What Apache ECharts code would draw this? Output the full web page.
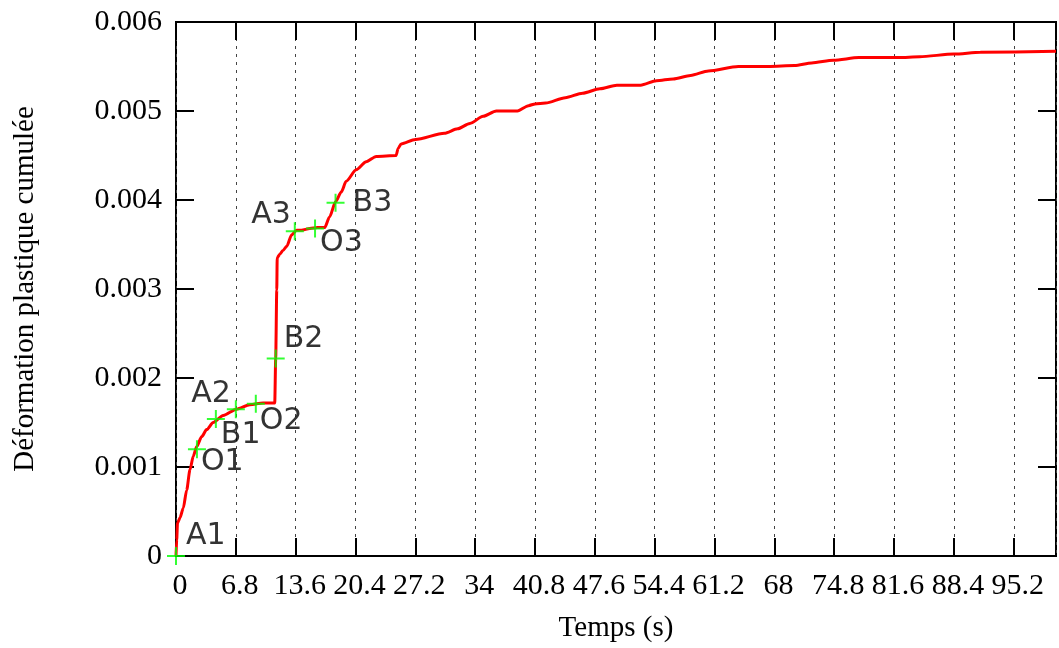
<!DOCTYPE html>
<html>
<head>
<meta charset="utf-8">
<script src="https://cdn.jsdelivr.net/npm/echarts@6/dist/echarts.min.js"></script>
<style>
  html, body { margin: 0; padding: 0; background: #fff; }
  #chart { width: 1059px; height: 648px; }
</style>
</head>
<body>
<div id="chart"></div>
<script>
// curve: time (s) / cumulated plastic strain
var timeData = [0, 0.08, 0.17, 0.45, 0.83, 1.21, 1.59, 1.96, 2.35, 2.91, 3.48, 4.23, 5.36, 6.88, 8.39, 9.89, 11.22,
  11.33, 11.45, 11.5, 11.79, 12.13, 12.58, 13.15, 13.7, 14.25, 15.2, 16.1, 16.9, 17.45, 18.13, 18.78, 19.34, 20.48,
  21.61, 22.75, 25.01, 25.24, 25.58, 27.2, 30.5, 32.0, 33.4, 34.9, 36.4, 38.8, 40.06, 40.8, 42.0, 44.24, 46.2,
  48.17, 50.1, 52.8, 54.6, 56.5, 58.48, 60.5, 63.9, 67.3, 70.3, 72.24, 74.7, 77.6, 82.1, 84.5, 88.4, 91.4, 100];
var strainData = [0, 0.00018, 0.00037, 0.00043, 0.00054, 0.00074, 0.00097, 0.00112, 0.00123, 0.00134, 0.00142,
  0.0015, 0.00158, 0.00165, 0.0017, 0.00172, 0.00172,
  0.00222, 0.00299, 0.00335, 0.00339, 0.00343, 0.00348, 0.00361, 0.00366, 0.00366, 0.00368, 0.00369, 0.00369,
  0.00381, 0.00398, 0.00409, 0.00421, 0.00434, 0.00443, 0.00449, 0.0045, 0.00458, 0.00463, 0.00468, 0.00475,
  0.0048, 0.00486, 0.00494, 0.005, 0.005, 0.00506, 0.00508, 0.00509, 0.00515, 0.0052, 0.00525, 0.00529, 0.00529,
  0.00534, 0.00536, 0.0054, 0.00545, 0.0055, 0.0055, 0.00551, 0.00554, 0.00557, 0.0056, 0.0056, 0.00561,
  0.00564, 0.00566, 0.00567];

// marked points
var markNames = ['A1', 'O1', 'B1', 'A2', 'O2', 'B2', 'A3', 'O3', 'B3'];
var markTime = [0, 2.38, 4.53, 6.8, 9.07, 11.33, 13.5, 15.8, 18.13];
var markStrain = [0, 0.0012, 0.00154, 0.00165, 0.00171, 0.00222, 0.00365, 0.00368, 0.00397];

var xStep = 6.8, xMax = 100;
var yStep = 0.001, yMax = 0.006;

// where each mark label sits relative to its cross
var labelPlace = {
  A1: ['right', [0, -20]], O1: ['right', [-6, 13]], B1: ['right', [-5, 16]],
  A2: ['left', [5, -15]], O2: ['right', [-6, 17]], B2: ['right', [-2, -19]],
  A3: ['left', [6, -16]], O3: ['right', [-5, 15]], B3: ['right', [7, 1]]
};

var serif = '"Liberation Serif", "Times New Roman", serif';

var curve = timeData.map(function (t, i) { return [t, strainData[i]]; });
var marks = markNames.map(function (n, i) {
  var p = labelPlace[n];
  return {
    name: n,
    value: [markTime[i], markStrain[i]],
    label: { position: p[0], offset: p[1] }
  };
});

function xLabel(v) {
  if (v > xMax - 1) return '';
  return String(Math.round(v * 10) / 10);
}

var tick = { inside: true, length: 18, lineStyle: { color: '#000', width: 2 } };

var chart = echarts.init(document.getElementById('chart'));
chart.setOption({
  animation: false,
  backgroundColor: '#fff',
  grid: { left: 176, right: 3, top: 22, bottom: 92, show: true, borderColor: '#000', borderWidth: 2, backgroundColor: 'transparent' },
  xAxis: [{
    type: 'value', min: 0, max: xMax, interval: xStep,
    name: 'Temps (s)', nameLocation: 'middle', nameGap: 58,
    nameTextStyle: { fontFamily: serif, fontSize: 29, color: '#000' },
    axisLine: { show: false, onZero: false },
    axisTick: tick,
    axisLabel: { formatter: xLabel, fontFamily: serif, fontSize: 30, color: '#000', margin: 15, padding: [0, 0, 0, 8], showMaxLabel: false },
    splitLine: { show: true, lineStyle: { color: '#444', width: 1, type: [3, 5] } }
  }, {
    type: 'value', position: 'top', min: 0, max: xMax, interval: xStep,
    axisLine: { show: false, onZero: false },
    axisTick: tick,
    axisLabel: { show: false },
    splitLine: { show: false }
  }],
  yAxis: [{
    type: 'value', min: 0, max: yMax, interval: yStep,
    name: 'Déformation plastique cumulée', nameLocation: 'middle', nameGap: 136,
    nameTextStyle: { fontFamily: serif, fontSize: 29, color: '#000' },
    axisLine: { show: false, onZero: false },
    axisTick: tick,
    axisLabel: { fontFamily: serif, fontSize: 30, color: '#000', margin: 14 },
    splitLine: { show: false }
  }, {
    type: 'value', position: 'right', min: 0, max: yMax, interval: yStep,
    axisLine: { show: false, onZero: false },
    axisTick: tick,
    axisLabel: { show: false },
    splitLine: { show: false }
  }],
  series: [{
    type: 'line',
    data: curve,
    showSymbol: false,
    smooth: 0.25,
    smoothMonotone: 'x',
    lineStyle: { color: '#ff0000', width: 3 },
    z: 3
  }, {
    type: 'scatter',
    data: marks,
    symbol: 'path://M0,1L2,1M1,0L1,2',
    symbolSize: 18,
    itemStyle: { color: 'rgba(0,0,0,0)', borderColor: '#00ff00', borderWidth: 2 },
    label: {
      show: true, formatter: '{b}', distance: 0,
      fontFamily: '"DejaVu Sans", sans-serif', fontSize: 30, color: '#000',
      textBorderWidth: 0
    },
    z: 4
  }]
});
</script>
</body>
</html>
